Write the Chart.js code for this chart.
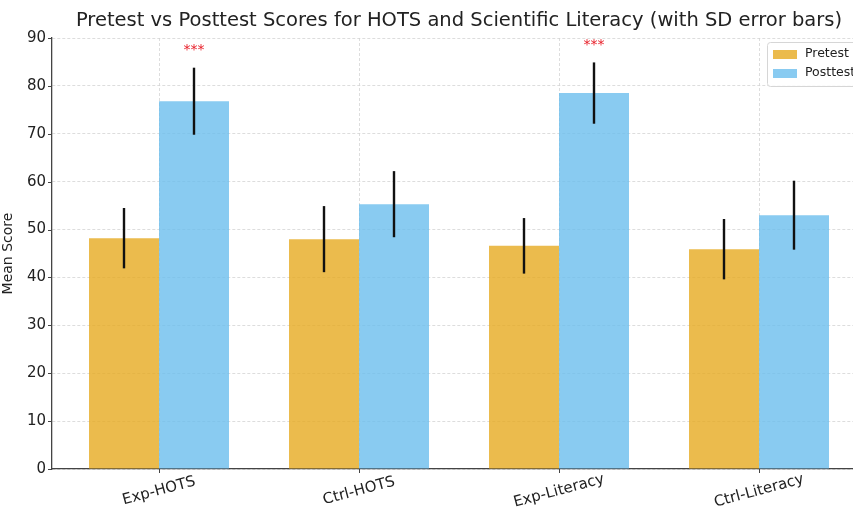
<!DOCTYPE html>
<html>
<head>
<meta charset="utf-8">
<script src="https://cdn.jsdelivr.net/npm/chart.js@4.4.1/dist/chart.umd.min.js"></script>
<style>
  html,body{margin:0;padding:0;background:#fff;overflow:hidden;}
  #wrap{width:880px;height:515px;}
</style>
</head>
<body>
<div id="wrap"><canvas id="c" width="880" height="515"></canvas></div>
<script>
// data
const categories   = ['Exp-HOTS','Ctrl-HOTS','Exp-Literacy','Ctrl-Literacy'];
const pretestMean  = [48.2, 48.0, 46.6, 45.9];
const pretestSD    = [6.3, 6.9, 5.8, 6.3];
const posttestMean = [76.8, 55.3, 78.5, 53.0];
const posttestSD   = [7.0, 6.9, 6.4, 7.2];
const signif       = ['***', '', '***', ''];
const yTicks       = [0,10,20,30,40,50,60,70,80,90];
const TITLE = 'Pretest vs Posttest Scores for HOTS and Scientific Literacy (with SD error bars)';

const FONT = '"DejaVu Sans", sans-serif';
const PRE_COL  = 'rgba(230,170,32,0.8)';
const POST_COL = 'rgba(108,190,237,0.8)';

const pts = arr => arr.map((v,i)=>({x:i,y:v}));

// error bars + stars + ticks + rotated labels + legend + title
const extras = {
  id:'extras',
  afterDatasetsDraw(chart){
    const {ctx, scales:{x,y}} = chart;
    const sds=[pretestSD, posttestSD], means=[pretestMean, posttestMean];
    ctx.save();
    ctx.strokeStyle='#111'; ctx.lineWidth=2.4;
    chart.data.datasets.forEach((ds,di)=>{
      chart.getDatasetMeta(di).data.forEach((bar,i)=>{
        const m=means[di][i], s=sds[di][i];
        ctx.beginPath();
        ctx.moveTo(bar.x, y.getPixelForValue(m+s));
        ctx.lineTo(bar.x, y.getPixelForValue(m-s));
        ctx.stroke();
      });
    });
    // significance stars above posttest
    ctx.fillStyle='#e8202a'; ctx.font='14px '+FONT; ctx.textAlign='center'; ctx.textBaseline='alphabetic';
    const meta=chart.getDatasetMeta(1);
    signif.forEach((s,i)=>{
      if(!s) return;
      ctx.fillText(s, meta.data[i].x, y.getPixelForValue(posttestMean[i]+posttestSD[i]+3)+1);
    });
    ctx.restore();
  },
  afterDraw(chart){
    const {ctx, chartArea:a, scales:{x,y}} = chart;
    ctx.save();
    // title centred over the plot area
    ctx.fillStyle='#222'; ctx.font='19.5px '+FONT; ctx.textAlign='center'; ctx.textBaseline='middle';
    ctx.fillText(TITLE, (a.left+a.right)/2, 21);
    // tick marks
    ctx.strokeStyle='#444'; ctx.lineWidth=1;
    yTicks.forEach(v=>{
      const py=Math.round(y.getPixelForValue(v))+0.5;
      ctx.beginPath(); ctx.moveTo(a.left-4,py); ctx.lineTo(a.left,py); ctx.stroke();
    });
    categories.forEach((c,i)=>{
      const px=Math.round(x.getPixelForValue(i))+0.5;
      ctx.beginPath(); ctx.moveTo(px,a.bottom); ctx.lineTo(px,a.bottom+4); ctx.stroke();
    });
    // rotated category labels
    ctx.font='15px '+FONT;
    categories.forEach((c,i)=>{
      ctx.save();
      ctx.translate(x.getPixelForValue(i), 491);
      ctx.rotate(-15*Math.PI/180);
      ctx.fillText(c,0,0);
      ctx.restore();
    });
    // legend
    const lx=767, ly=42, lw=100, lh=44;
    ctx.fillStyle='rgba(255,255,255,0.85)';
    ctx.strokeStyle='#d6d6d6'; ctx.lineWidth=1;
    ctx.beginPath(); ctx.roundRect(lx+0.5,ly+0.5,lw,lh,3); ctx.fill(); ctx.stroke();
    ctx.font='12.5px '+FONT; ctx.textAlign='left'; ctx.textBaseline='middle';
    [['Pretest',PRE_COL],['Posttest',POST_COL]].forEach((e,k)=>{
      const yy=ly+12+k*19;
      ctx.fillStyle=e[1]; ctx.fillRect(lx+6, yy-4, 24, 9);
      ctx.fillStyle='#222'; ctx.fillText(e[0], lx+38, yy);
    });
    ctx.restore();
  }
};

new Chart(document.getElementById('c'), {
  type:'bar',
  data:{
    datasets:[
      {label:'Pretest',  data:pts(pretestMean),  backgroundColor:PRE_COL,  borderWidth:0},
      {label:'Posttest', data:pts(posttestMean), backgroundColor:POST_COL, borderWidth:0}
    ]
  },
  options:{
    responsive:false, animation:false,
    layout:{padding:{left:0,right:14,top:38,bottom:0}},
    datasets:{bar:{categoryPercentage:0.7, barPercentage:1.0}},
    plugins:{ legend:{display:false}, tooltip:{enabled:false}, title:{display:false} },
    scales:{
      x:{type:'linear', min:-0.535, max:3.535, offset:false,
        afterBuildTicks:s=>{ s.ticks=categories.map((c,i)=>({value:i})); },
        afterFit:s=>{ s.height=46; },
        ticks:{display:false},
        grid:{offset:false, color:'#d4d4d4', lineWidth:0.8, drawTicks:false},
        border:{display:true, color:'#444', width:1.3, dash:[3,2]}
      },
      y:{min:0, max:90,
        afterBuildTicks:s=>{ s.ticks=yTicks.map(v=>({value:v})); },
        afterFit:s=>{ s.width=52; },
        ticks:{color:'#222', font:{family:FONT, size:15}, padding:6},
        grid:{color:'#d4d4d4', lineWidth:0.8, drawTicks:false},
        border:{display:true, color:'#444', width:1.3, dash:[3,2]},
        title:{display:true, text:'Mean Score', color:'#222', font:{family:FONT, size:14}, padding:{top:0,bottom:4}}
      }
    }
  },
  plugins:[extras]
});
</script>
</body>
</html>
